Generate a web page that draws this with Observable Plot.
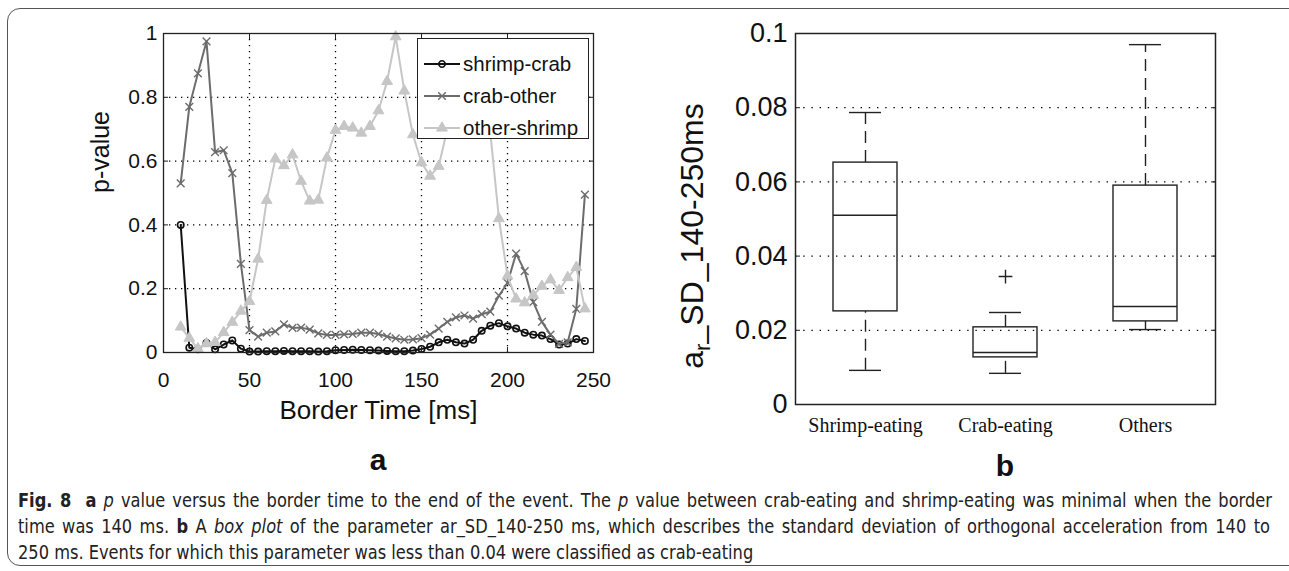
<!DOCTYPE html>
<html>
<head>
<meta charset="utf-8">
<script src="https://cdn.jsdelivr.net/npm/d3@7"></script>
<script src="https://cdn.jsdelivr.net/npm/@observablehq/plot@0.6"></script>
<style>
html,body{margin:0;padding:0;background:#fff;width:1289px;height:571px;overflow:hidden;font-family:"Liberation Sans",Arial,sans-serif;color:#111;}
#frame{position:absolute;left:7px;top:8px;width:1310px;height:558px;border:1.5px solid #555;border-radius:13px;box-sizing:border-box;}
#pa{position:absolute;left:0;top:0;}
#pb{position:absolute;left:680px;top:0;}
.panel{position:absolute;font-weight:bold;font-size:30px;font-family:"Liberation Sans",Arial,sans-serif;transform:translate(-50%,-50%);}
#legend{position:absolute;left:417px;top:38px;width:172px;height:101px;border:1.3px solid #222;background:#fff;box-sizing:border-box;}
.lrow{position:absolute;left:6px;height:24px;display:flex;align-items:center;font-size:20.5px;white-space:nowrap;}
.lrow svg{margin-right:3px;}
#ylabB{position:absolute;left:695px;top:236px;transform:translate(-50%,-50%) rotate(-90deg);font-size:32px;white-space:nowrap;}
#ylabB sub{font-size:0.7em;vertical-align:-0.35em;}
#cap{position:absolute;left:18px;top:487px;width:1252px;font-family:"Liberation Sans Narrow","DejaVu Sans Condensed",sans-serif;font-size:19px;color:#222;}
.ln{white-space:nowrap;height:26px;line-height:26px;transform-origin:0 50%;}
</style>
</head>
<body>
<div id="frame"></div>
<div id="pa"></div>
<div id="pb"></div>
<div id="legend"></div>
<div id="ylabB">a<sub>r</sub>_SD_140-250ms</div>
<div class="panel" style="left:378px;top:460px;">a</div>
<div class="panel" style="left:1005px;top:466px;">b</div>
<div id="cap">
  <div class="ln j"><b>Fig. 8</b>&nbsp; <b>a</b> <i>p</i> value versus the border time to the end of the event. The <i>p</i> value between crab-eating and shrimp-eating was minimal when the border</div>
  <div class="ln j">time was 140 ms. <b>b</b> A <i>box plot</i> of the parameter ar_SD_140-250 ms, which describes the standard deviation of orthogonal acceleration from 140 to</div>
  <div class="ln">250 ms. Events for which this parameter was less than 0.04 were classified as crab-eating</div>
</div>
<script>
// ---------- Panel a data ----------
const borderTime = [10,15,20,25,30,35,40,45,50,55,60,65,70,75,80,85,90,95,100,105,110,115,120,125,130,135,140,145,150,155,160,165,170,175,180,185,190,195,200,205,210,215,220,225,230,235,240,245];
const shrimpCrab = [0.40,0.015,0.01,0.03,0.01,0.025,0.038,0.012,0.003,0.003,0.004,0.004,0.005,0.004,0.004,0.004,0.003,0.004,0.007,0.008,0.009,0.008,0.007,0.006,0.005,0.004,0.004,0.006,0.011,0.018,0.032,0.040,0.032,0.028,0.040,0.068,0.084,0.092,0.082,0.075,0.062,0.056,0.053,0.042,0.025,0.028,0.042,0.036];
const crabOther = [0.53,0.77,0.875,0.975,0.628,0.634,0.562,0.278,0.070,0.050,0.062,0.066,0.088,0.077,0.078,0.072,0.060,0.055,0.055,0.057,0.058,0.062,0.062,0.058,0.050,0.044,0.040,0.041,0.045,0.056,0.075,0.096,0.110,0.116,0.106,0.120,0.128,0.178,0.218,0.310,0.255,0.158,0.096,0.056,0.027,0.032,0.137,0.495];
const otherShrimp = [0.080,0.045,0.012,0.028,0.032,0.063,0.095,0.130,0.160,0.293,0.477,0.607,0.586,0.620,0.537,0.475,0.478,0.610,0.697,0.709,0.704,0.688,0.709,0.758,0.850,0.990,0.820,0.683,0.595,0.553,0.584,0.700,0.760,0.800,0.780,0.740,0.690,0.420,0.240,0.168,0.156,0.180,0.208,0.228,0.195,0.235,0.267,0.137];
const seriesNames = ["shrimp-crab","crab-other","other-shrimp"];
const seriesColors = ["#111111","#6c6c6c","#c6c6c6"];
const seriesSymbols = ["circle","times","triangle"];
const xTicksA = [0,50,100,150,200,250];
const yTicksA = [0,0.2,0.4,0.6,0.8,1];

// ---------- Panel b data ----------
const groups = ["Shrimp-eating","Crab-eating","Others"];
const whiskerLow = [0.0092,0.0084,0.0202];
const quart1 = [0.0251,0.0127,0.0224];
const medians = [0.0510,0.0140,0.0264];
const quart3 = [0.0652,0.0208,0.0590];
const whiskerHigh = [0.0787,0.0248,0.0970];
const outlierGroup = ["Crab-eating"];
const outlierValue = [0.0345];
const yTicksB = [0,0.02,0.04,0.06,0.08,0.1];

// ---------- build panel a ----------
const seriesValues = [shrimpCrab, crabOther, otherShrimp];
const seriesData = seriesValues.map(vals => borderTime.map((t,i) => ({t, p: vals[i]})));

const markStyles = [
  {symbol:"circle", r:3.2, stroke:seriesColors[0], strokeWidth:1.6, fill:"none"},
  {symbol:"times", r:3.6, stroke:seriesColors[1], strokeWidth:1.4, fill:"none"},
  {symbol:"triangle", r:4.0, stroke:seriesColors[2], strokeWidth:1, fill:seriesColors[2]}
];

const seriesMarks = seriesData.flatMap((d,k) => [
  Plot.line(d, {x:"t", y:"p", stroke:seriesColors[k], strokeWidth:2}),
  Plot.dot(d, {x:"t", y:"p", ...markStyles[k]})
]);

const gridDash = "1.3,4.7";
const plotA = Plot.plot({
  width: 640, height: 440,
  marginLeft: 163, marginRight: 47, marginTop: 33, marginBottom: 88,
  style: {fontFamily:"Liberation Sans, Arial, sans-serif", fontSize:"21px", color:"#111", background:"transparent", overflow:"visible"},
  x: {domain:[0,250]},
  y: {domain:[0,1]},
  marks: [
    Plot.gridX(xTicksA.slice(1,-1), {stroke:"#000", strokeOpacity:1, strokeWidth:1.3, strokeDasharray:gridDash}),
    Plot.gridY(yTicksA.slice(1,-1), {stroke:"#000", strokeOpacity:1, strokeWidth:1.3, strokeDasharray:gridDash}),
    ...seriesMarks,
    Plot.frame({stroke:"#222", strokeWidth:1.3}),
    Plot.axisX(xTicksA, {tickSize:0, tickPadding:20, fontSize:21, label:null}),
    Plot.axisY(yTicksA, {tickSize:0, tickPadding:6, fontSize:21, label:null, tickFormat:d => String(d)}),
    Plot.axisX(xTicksA, {anchor:"bottom", tickSize:-5, tickFormat:() => "", label:null, stroke:"#222"}),
    Plot.axisX(xTicksA, {anchor:"top", tickSize:-5, tickFormat:() => "", label:null, stroke:"#222"}),
    Plot.axisY(yTicksA, {anchor:"left", tickSize:-5, tickFormat:() => "", label:null, stroke:"#222"}),
    Plot.axisY(yTicksA, {anchor:"right", tickSize:-5, tickFormat:() => "", label:null, stroke:"#222"}),
    Plot.text(["Border Time [ms]"], {frameAnchor:"bottom", dy:66, fontSize:26, text:d => d, fill:"#111"}),
    Plot.text(["p-value"], {frameAnchor:"left", dx:-63, rotate:-90, fontSize:25, text:d => d, fill:"#111"})
  ]
});
document.getElementById("pa").appendChild(plotA);

// legend for panel a
const legend = document.getElementById("legend");
seriesNames.forEach((name,k) => {
  const row = document.createElement("div");
  row.className = "lrow";
  row.style.top = (13 + 32*k) + "px";
  const s = d3.create("svg").attr("width",36).attr("height",14);
  s.append("line").attr("x1",0).attr("x2",36).attr("y1",7).attr("y2",7).attr("stroke",seriesColors[k]).attr("stroke-width",2);
  const sym = d3.symbol().type({circle:d3.symbolCircle, times:d3.symbolTimes, triangle:d3.symbolTriangle}[seriesSymbols[k]]).size(k===0?32:(k===1?40:50));
  s.append("path").attr("d", sym()).attr("transform","translate(18,7)")
    .attr("fill", markStyles[k].fill).attr("stroke", markStyles[k].stroke).attr("stroke-width", markStyles[k].strokeWidth);
  row.appendChild(s.node());
  const t = document.createElement("span");
  t.textContent = name;
  row.appendChild(t);
  legend.appendChild(row);
});

// ---------- build panel b ----------
const boxes = groups.map((g,i) => ({g, lo:whiskerLow[i], q1:quart1[i], med:medians[i], q3:quart3[i], hi:whiskerHigh[i]}));
const outliers = outlierGroup.map((g,i) => ({g, v:outlierValue[i]}));

const plotB = Plot.plot({
  width: 580, height: 440,
  marginLeft: 115, marginRight: 45, marginTop: 33, marginBottom: 36,
  style: {fontFamily:"Liberation Sans, Arial, sans-serif", fontSize:"27px", color:"#111", background:"transparent", overflow:"visible"},
  x: {domain: groups, padding: 0},
  y: {domain: [0,0.1]},
  marks: [
    Plot.gridY(yTicksB.slice(1,-1), {stroke:"#000", strokeOpacity:1, strokeWidth:1.3, strokeDasharray:"1.4,6.8"}),
    Plot.ruleX(boxes, {x:"g", y1:"q3", y2:"hi", stroke:"#222", strokeWidth:1.4, strokeDasharray:"12,7"}),
    Plot.ruleX(boxes, {x:"g", y1:"lo", y2:"q1", stroke:"#222", strokeWidth:1.4, strokeDasharray:"12,7"}),
    Plot.tickY(boxes, {x:"g", y:"hi", stroke:"#222", strokeWidth:1.4, insetLeft:54, insetRight:54}),
    Plot.tickY(boxes, {x:"g", y:"lo", stroke:"#222", strokeWidth:1.4, insetLeft:54, insetRight:54}),
    Plot.barY(boxes, {x:"g", y1:"q1", y2:"q3", fill:"none", stroke:"#222", strokeWidth:1.4, insetLeft:38, insetRight:38}),
    Plot.tickY(boxes, {x:"g", y:"med", stroke:"#222", strokeWidth:1.4, insetLeft:38, insetRight:38}),
    Plot.dot(outliers, {x:"g", y:"v", symbol:"plus", r:4.5, stroke:"#222", strokeWidth:1.4}),
    Plot.frame({stroke:"#222", strokeWidth:1.5}),
    Plot.axisX(groups, {tickSize:0, tickPadding:13, fontSize:20, fontFamily:"Liberation Serif, serif", label:null}),
    Plot.axisY(yTicksB, {tickSize:0, tickPadding:8, fontSize:27, label:null, tickFormat:d => String(+d.toFixed(2))}),
    Plot.axisY(yTicksB, {anchor:"left", tickSize:-5, tickFormat:() => "", label:null, stroke:"#222"}),
    Plot.axisY(yTicksB, {anchor:"right", tickSize:-5, tickFormat:() => "", label:null, stroke:"#222"})
  ]
});
document.getElementById("pb").appendChild(plotB);

// ---------- caption: condensed and justified ----------
const lines = Array.from(document.querySelectorAll("#cap .ln"));
const spans = lines.map(el => {
  const span = document.createElement("span");
  span.innerHTML = el.innerHTML;
  el.innerHTML = "";
  el.appendChild(span);
  return span;
});
const target = 1252;
const squeeze = 0.95;
lines.forEach((el, i) => {
  const w = spans[i].getBoundingClientRect().width;
  el.style.transform = `scaleX(${squeeze})`;
  if (el.classList.contains("j")) {
    const spaces = (spans[i].textContent.match(/ /g) || []).length;
    const natural = w * squeeze;
    if (natural < target) el.style.wordSpacing = ((target / squeeze - w) / spaces) + "px";
    else el.style.transform = `scaleX(${target / w})`;
  }
});
</script>
</body>
</html>
